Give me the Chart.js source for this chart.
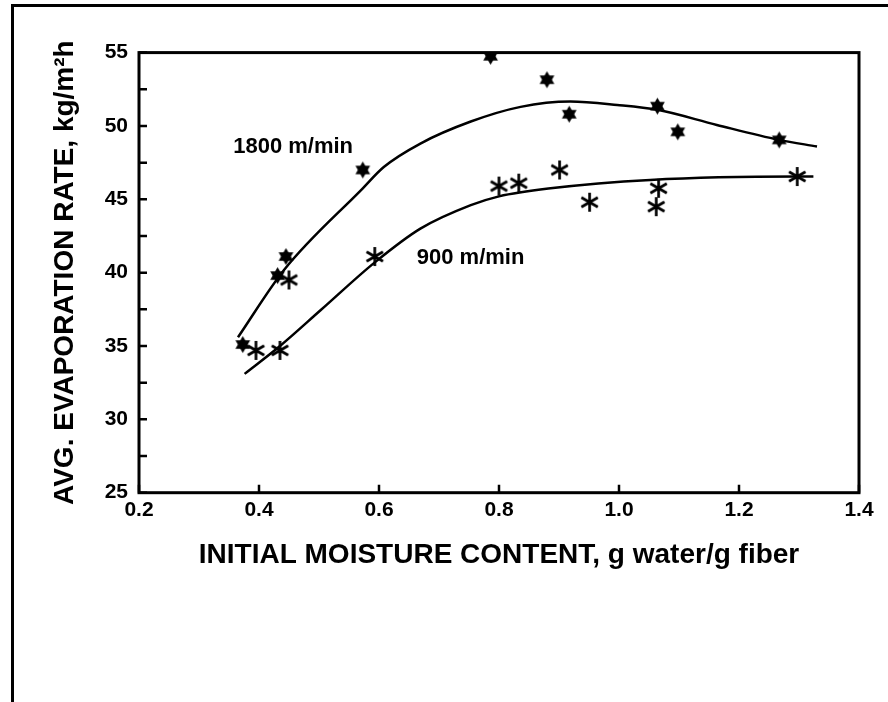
<!DOCTYPE html>
<html>
<head>
<meta charset="utf-8">
<script src="https://cdn.jsdelivr.net/npm/chart.js@4.4.0/dist/chart.umd.min.js"></script>
<style>
  html, body { margin: 0; padding: 0; background: #fff; overflow: hidden; }
  #frame { position: absolute; left: 11px; top: 4px; width: 1000px; height: 1000px; border: 3px solid #000; box-sizing: border-box; }
  #c { position: absolute; left: 0; top: 0; }
</style>
</head>
<body>
<div id="frame"></div>
<canvas id="c" width="888" height="702"></canvas>
<script>
// measured points, 1800 m/min (filled stars)
const moisture1800 = [0.373, 0.431, 0.445, 0.573, 0.786, 0.880, 0.917, 1.064, 1.098, 1.267];
const rate1800 = [35.1, 39.8, 41.1, 47.0, 54.75, 53.15, 50.8, 51.35, 49.6, 49.05];

// measured points, 900 m/min (asterisks)
const moisture900 = [0.395, 0.435, 0.450, 0.593, 0.800, 0.833, 0.901, 0.951, 1.066, 1.062, 1.297];
const rate900 = [34.7, 34.7, 39.5, 41.1, 45.9, 46.1, 47.0, 44.8, 45.75, 44.5, 46.55];

// fitted curves
const curveX1800 = [0.365, 0.442, 0.573, 0.608, 0.669, 0.753, 0.836, 0.919, 0.997, 1.064, 1.163, 1.267, 1.330];
const curveY1800 = [35.6, 40.2, 45.75, 47.2, 48.8, 50.3, 51.3, 51.66, 51.43, 51.1, 50.07, 49.05, 48.6];
const curveX900 = [0.376, 0.435, 0.503, 0.593, 0.669, 0.753, 0.800, 0.886, 1.052, 1.297, 1.324];
const curveY900 = [33.1, 35.0, 37.45, 40.7, 43.0, 44.6, 45.2, 45.75, 46.32, 46.55, 46.55];

// axes
const xTickValues = [0.2, 0.4, 0.6, 0.8, 1.0, 1.2, 1.4];
const yTickValues = [25, 30, 35, 40, 45, 50, 55];
const yMinorValues = [27.5, 32.5, 37.5, 42.5, 47.5, 52.5];

const curveLabels = [
    { text: '1800 m/min', x: 0.357, y: 48.6 },
    { text: '900 m/min', x: 0.663, y: 40.98 }
];

const FONT = '"Liberation Sans", Arial, sans-serif';
Chart.defaults.font.family = FONT;
Chart.defaults.color = '#000';

const toPoints = (xs, ys) => xs.map((v, i) => ({ x: v, y: ys[i] }));

// six-pointed filled star
function hexagram(r) {
    const s = Math.ceil(r * 2 + 2);
    const c = document.createElement('canvas');
    c.width = c.height = s;
    const g = c.getContext('2d');
    g.fillStyle = '#000';
    [-90, 90].forEach(a0 => {
        g.beginPath();
        for (let k = 0; k < 3; k++) {
            const a = (a0 + k * 120) * Math.PI / 180;
            g.lineTo(s / 2 + r * Math.cos(a), s / 2 + r * Math.sin(a));
        }
        g.closePath();
        g.fill();
    });
    return c;
}

// six-armed asterisk
function asterisk(r, w) {
    const s = Math.ceil(r * 2 + 2);
    const c = document.createElement('canvas');
    c.width = c.height = s;
    const g = c.getContext('2d');
    g.strokeStyle = '#000';
    g.lineWidth = w;
    g.beginPath();
    [90, 30, 150].forEach(d => {
        const a = d * Math.PI / 180;
        g.moveTo(s / 2 - r * Math.cos(a), s / 2 - r * Math.sin(a));
        g.lineTo(s / 2 + r * Math.cos(a), s / 2 + r * Math.sin(a));
    });
    g.stroke();
    return c;
}

const framePlugin = {
    id: 'frame',
    beforeDatasetsDraw(chart) {
        const { ctx, chartArea: a, scales: { x, y } } = chart;
        ctx.save();
        ctx.strokeStyle = '#000';
        ctx.lineWidth = 3;
        ctx.strokeRect(a.left, a.top, a.right - a.left, a.bottom - a.top);
        ctx.lineWidth = 2.5;
        ctx.beginPath();
        y.ticks.forEach(t => {
            const py = y.getPixelForValue(t.value);
            ctx.moveTo(a.left, py);
            ctx.lineTo(a.left + 8, py);
        });
        x.ticks.forEach(t => {
            const px = x.getPixelForValue(t.value);
            ctx.moveTo(px, a.bottom);
            ctx.lineTo(px, a.bottom - 8);
        });
        ctx.stroke();
        ctx.restore();
    },
    afterDraw(chart) {
        const { ctx, scales: { x, y } } = chart;
        ctx.save();
        ctx.font = 'bold 22px ' + FONT;
        ctx.fillStyle = '#000';
        ctx.textAlign = 'left';
        ctx.textBaseline = 'middle';
        curveLabels.forEach(l => ctx.fillText(l.text, x.getPixelForValue(l.x), y.getPixelForValue(l.y)));
        ctx.restore();
    }
};

const curveStyle = {
    showLine: true,
    pointRadius: 0,
    borderColor: '#000',
    borderWidth: 2.5,
    cubicInterpolationMode: 'monotone'
};

new Chart(document.getElementById('c'), {
    type: 'scatter',
    data: {
        datasets: [
            { label: '1800 fit', data: toPoints(curveX1800, curveY1800), ...curveStyle },
            { label: '900 fit', data: toPoints(curveX900, curveY900), ...curveStyle },
            { label: '1800 m/min', data: toPoints(moisture1800, rate1800), pointStyle: hexagram(8.5), pointRadius: 9 },
            { label: '900 m/min', data: toPoints(moisture900, rate900), pointStyle: asterisk(9.5, 2.7), pointRadius: 10 }
        ]
    },
    options: {
        responsive: false,
        animation: false,
        events: [],
        layout: { padding: { left: 0, top: 52.6, right: 29, bottom: 0 } },
        plugins: { legend: { display: false }, tooltip: { enabled: false } },
        scales: {
            x: {
                type: 'linear',
                min: 0.2,
                max: 1.4,
                afterBuildTicks: s => { s.ticks = xTickValues.map(v => ({ value: v })); },
                afterFit: s => { s.height = 702 - 492.7; },
                grid: { display: false, drawTicks: false },
                border: { display: false },
                ticks: {
                    autoSkip: false,
                    maxRotation: 0,
                    padding: 5,
                    font: { size: 21, weight: 'bold' },
                    callback: v => v.toFixed(1)
                },
                title: {
                    display: true,
                    text: 'INITIAL MOISTURE CONTENT, g water/g fiber',
                    font: { size: 28, weight: 'bold' },
                    padding: { top: 0, bottom: 130 }
                }
            },
            y: {
                min: 25,
                max: 55,
                afterBuildTicks: s => {
                    s.ticks = yTickValues.concat(yMinorValues).sort((a, b) => a - b).map(v => ({ value: v }));
                },
                afterFit: s => { s.width = 139; },
                grid: { display: false, drawTicks: false },
                border: { display: false },
                ticks: {
                    autoSkip: false,
                    padding: 11,
                    font: { size: 21, weight: 'bold' },
                    callback: v => yTickValues.includes(v) ? String(v) : ''
                },
                title: {
                    display: true,
                    text: 'AVG. EVAPORATION RATE, kg/m²h',
                    font: { size: 28, weight: 'bold' },
                    padding: { top: 48, bottom: 0 }
                }
            }
        }
    },
    plugins: [framePlugin]
});
</script>
</body>
</html>
